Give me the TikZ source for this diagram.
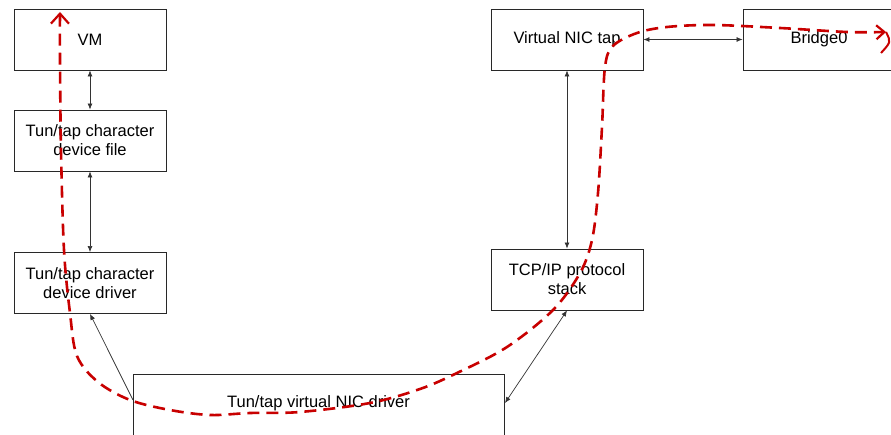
\documentclass[tikz,border=0pt]{standalone}
\usepackage{fontspec}
\setmainfont{Liberation Sans}
\usetikzlibrary{arrows.meta}
\definecolor{pathred}{RGB}{200,0,0}
\definecolor{boxline}{RGB}{40,40,40}
\begin{document}
\begin{tikzpicture}[x=1pt,y=-1pt,
  box/.style={draw=boxline, line width=0.9pt, fill=white, minimum width=152pt, minimum height=61pt,
    inner sep=0pt, align=center, font=\fontsize{16.5}{19}\selectfont},
  conn/.style={draw=black!80, line width=0.7pt, {Latex[length=6pt,width=5pt]}-{Latex[length=6pt,width=5pt]}},
  conn1/.style={draw=black!80, line width=0.7pt, {Latex[length=6pt,width=5pt]}-},
  redpath/.style={draw=pathred, line width=2.6pt, dash pattern=on 12pt off 7pt,
    {Straight Barb[length=10pt,width=18pt,line width=2.2pt]}-{Straight Barb[length=8pt,width=14pt,line width=2.2pt]}}
]
\clip (0,0) rectangle (891,435);
\fill[white] (0,0) rectangle (891,435);

\node[box] (vm) at (90,39.5) {VM};
\node[box] (file) at (90,140.5) {Tun/tap character\\device file};
\node[box] (drv) at (90,283) {Tun/tap character\\device driver};
\node[box] (vnt) at (567,39.5) {Virtual NIC tap};
\node[box] (br) at (819,39.5) {Bridge0};
\node[box] (tcp) at (567,279.5) {TCP/IP protocol\\stack};
\node[box, minimum width=371pt, minimum height=80pt, anchor=north,
  label={[anchor=center, yshift=-29pt, font=\fontsize{16.5}{19}\selectfont]north:Tun/tap virtual NIC driver}]
  (nic) at (318.5,374) {};

\coordinate (nicL) at (133,400);
\coordinate (nicR) at (505,403);

\draw[conn] (vm.south) -- (file.north);
\draw[conn] (file.south) -- (drv.north);
\draw[conn1] (drv.south) -- (nicL);
\draw[conn] (tcp.south) -- (nicR);
\draw[conn] (vnt.south) -- (tcp.north);
\draw[conn] (vnt.east) -- (br.west);

\draw[redpath] plot[smooth, tension=0.55] coordinates {
 (60,12) (60,60) (61,150) (64,250) (70,313) (77,356) (98,382) (130,400) (170,410) (210,415)
 (250,413) (300,412) (370,403) (420,389) (457,373) (507,347) (553,310) (580,273) (592,240)
 (598,193) (602,127) (605,67) (613,46) (637,33) (667,27) (713,25) (780,28) (847,32) (886,32)};
\draw[pathred, line width=2pt] (886,32) .. controls (891,42) .. (881,53);
\end{tikzpicture}
\end{document}
